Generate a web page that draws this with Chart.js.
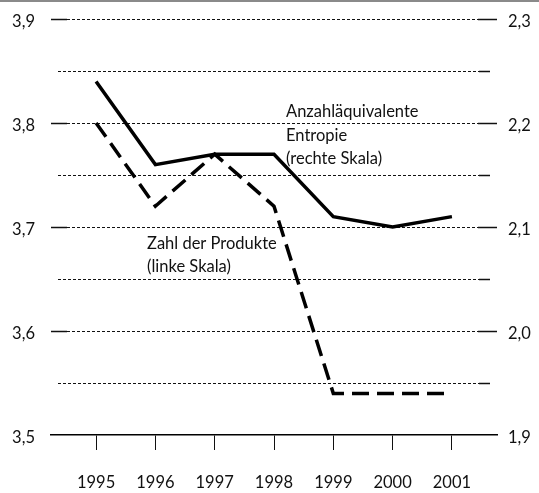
<!DOCTYPE html>
<html><head><meta charset="utf-8">
<script src="https://cdn.jsdelivr.net/npm/chart.js@4"></script>
<style>html,body{margin:0;padding:0;background:#fff}#wrap{width:539px;height:493px;position:relative}</style>
</head><body><div id="wrap"><canvas id="c"></canvas></div>
<script>
const years = [1995, 1996, 1997, 1998, 1999, 2000, 2001];
const zahlProdukte = [3.80, 3.72, 3.77, 3.72, 3.54, 3.54, 3.54];
const entropie = [2.24, 2.16, 2.17, 2.17, 2.11, 2.10, 2.11];
const leftTicks = [3.5, 3.6, 3.7, 3.8, 3.9];
const rightTicks = [1.9, 2.0, 2.1, 2.2, 2.3];
const halfTicksLeft = [3.55, 3.65, 3.75, 3.85];
const labelEntropie = ['Anzahläquivalente', 'Entropie', '(rechte Skala)'];
const labelZahl = ['Zahl der Produkte', '(linke Skala)'];

const FONT = 'Lato';
const FSIZE = 16.5;
const fmt = v => Number(v).toFixed(1).replace('.', ',');

function seg(ctx, x1, x2, y) { ctx.beginPath(); ctx.moveTo(x1, y); ctx.lineTo(x2, y); ctx.stroke(); }
function noPad(s) { s.paddingTop = 0; s.paddingBottom = 0; s.paddingLeft = 0; s.paddingRight = 0; }

const gridPlugin = {
  id: 'customGrid',
  beforeDatasetsDraw(chart) {
    const { ctx, chartArea: a, scales } = chart;
    const y = scales.yL;
    ctx.save();
    leftTicks.slice(1).forEach(v => {
      const py = Math.round(y.getPixelForValue(v)) + 0.5;
      ctx.strokeStyle = '#111'; ctx.lineWidth = 1.5; ctx.setLineDash([]);
      seg(ctx, a.left, a.left + 16, py);
      seg(ctx, a.right - 19, a.right, py);
      ctx.lineWidth = 1; ctx.setLineDash([3, 2]);
      seg(ctx, a.left + 16, a.right - 19, py);
    });
    halfTicksLeft.forEach(v => {
      const py = Math.round(y.getPixelForValue(v)) + 0.5;
      ctx.strokeStyle = '#111'; ctx.lineWidth = 1; ctx.setLineDash([3, 2]);
      seg(ctx, a.left + 7, a.right - 18, py);
      ctx.lineWidth = 1.5; ctx.setLineDash([]);
      seg(ctx, a.right - 18, a.right - 7, py);
    });
    ctx.restore();
  },
  afterDraw(chart) {
    const { ctx, width } = chart;
    ctx.save();
    ctx.fillStyle = '#8a8a8a';
    ctx.fillRect(0, 0, width, 2);
    ctx.fillStyle = '#111';
    ctx.font = FSIZE + 'px ' + FONT;
    ctx.textBaseline = 'alphabetic';
    ctx.textAlign = 'left';
    labelEntropie.forEach((t, i) => ctx.fillText(t, 286, 117 + i * 23.5));
    labelZahl.forEach((t, i) => ctx.fillText(t, 147, 249 + i * 23));
    ctx.restore();
  }
};

const xyData = vals => years.map((x, i) => ({ x, y: vals[i] }));

new Chart(document.getElementById('c'), {
  type: 'line',
  data: {
    datasets: [
      {
        label: 'Zahl der Produkte',
        data: xyData(zahlProdukte),
        yAxisID: 'yL',
        borderColor: '#000',
        borderWidth: 3.5,
        borderDash: [17, 8],
        borderCapStyle: 'butt',
        borderJoinStyle: 'miter',
        pointRadius: 0,
        tension: 0,
        fill: false
      },
      {
        label: 'Anzahläquivalente Entropie',
        data: xyData(entropie),
        yAxisID: 'yR',
        borderColor: '#000',
        borderWidth: 3.5,
        borderCapStyle: 'butt',
        borderJoinStyle: 'miter',
        pointRadius: 0,
        tension: 0,
        fill: false
      }
    ]
  },
  options: {
    responsive: true,
    maintainAspectRatio: false,
    animation: false,
    layout: { padding: { top: 19, left: 0, right: 0, bottom: 0 } },
    plugins: { legend: { display: false }, tooltip: { enabled: false } },
    scales: {
      x: {
        type: 'linear',
        min: 1994.24,
        max: 2001.76,
        afterBuildTicks: s => { s.ticks = years.map(v => ({ value: v })); },
        afterFit: s => { s.height = 58; noPad(s); },
        grid: { display: true, drawOnChartArea: false, drawTicks: true, tickLength: 15, color: '#111', lineWidth: 1 },
        border: { display: true, color: '#000', width: 1.5 },
        ticks: { callback: v => String(v), font: { family: FONT, size: FSIZE }, color: '#111', padding: 23, maxRotation: 0, autoSkip: false }
      },
      yL: {
        type: 'linear',
        position: 'left',
        min: 3.5,
        max: 3.9,
        afterBuildTicks: s => { s.ticks = leftTicks.map(v => ({ value: v })); },
        afterFit: s => { s.width = 51; noPad(s); },
        grid: { display: false, drawTicks: false },
        border: { display: false },
        ticks: { callback: fmt, font: { family: FONT, size: FSIZE }, color: '#111', padding: 16, labelOffset: 3 }
      },
      yR: {
        type: 'linear',
        position: 'right',
        min: 1.9,
        max: 2.3,
        afterBuildTicks: s => { s.ticks = rightTicks.map(v => ({ value: v })); },
        afterFit: s => { s.width = 42; noPad(s); },
        grid: { display: false, drawTicks: false },
        border: { display: false },
        ticks: { callback: fmt, font: { family: FONT, size: FSIZE }, color: '#111', padding: 11, labelOffset: 3 }
      }
    }
  },
  plugins: [gridPlugin]
});
</script>
</body></html>
